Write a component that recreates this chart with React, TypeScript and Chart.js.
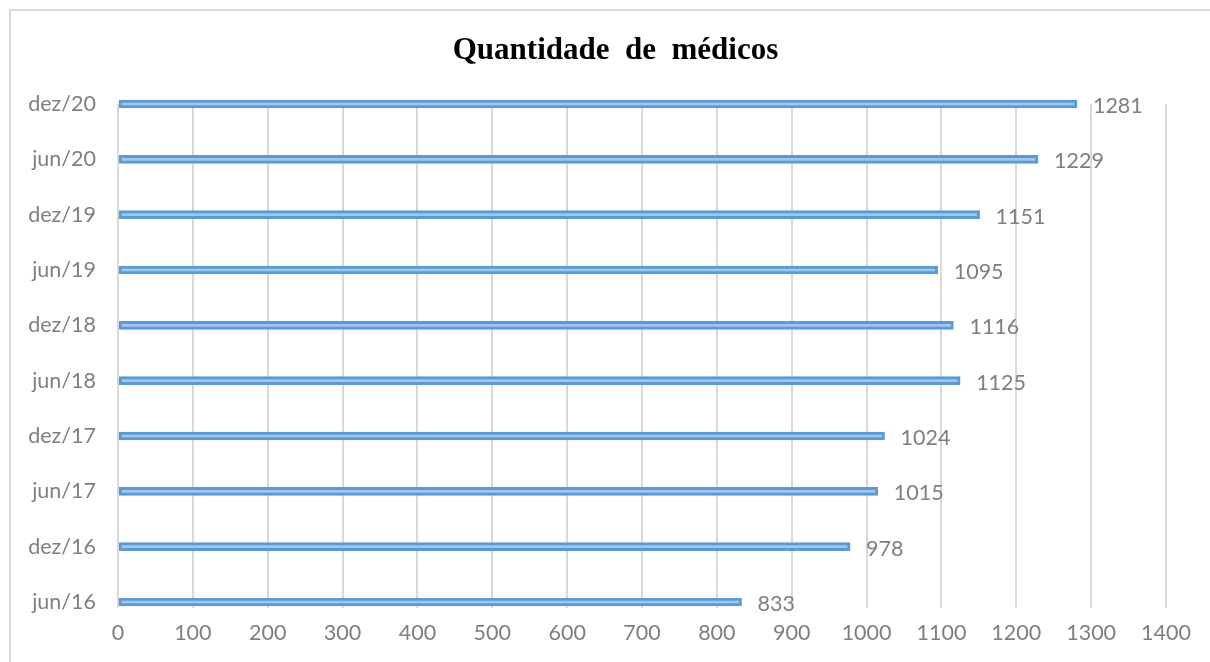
import React, { useEffect, useRef } from "react";
import { Chart, registerables } from "chart.js";

Chart.register(...registerables);

const periods = ["jun/16", "dez/16", "jun/17", "dez/17", "jun/18", "dez/18", "jun/19", "dez/19", "jun/20", "dez/20"];
const doctors = [833, 978, 1015, 1024, 1125, 1116, 1095, 1151, 1229, 1281];
const titleText = "Quantidade  de  médicos";
const xMin = 0;
const xMax = 1400;
const xStep = 100;

const labelColor = "#7f7f7f";
const gridColor = "#d9d9d9";
const labelFont = "Lato";
const labelSize = 21.5;

const valueLabels = {
  id: "valueLabels",
  afterDatasetsDraw(chart: any) {
    const ctx = chart.ctx;
    const meta = chart.getDatasetMeta(0);
    ctx.save();
    ctx.font = `${labelSize}px ${labelFont}`;
    ctx.fillStyle = labelColor;
    ctx.textAlign = "left";
    ctx.textBaseline = "middle";
    meta.data.forEach((bar: any, i: number) => {
      const v = chart.data.datasets[0].data[i];
      ctx.fillText(String(v), bar.x + 16, bar.y + 2);
    });
    ctx.restore();
  },
};

const titleDraw = {
  id: "titleDraw",
  afterDraw(chart: any) {
    const ctx = chart.ctx;
    ctx.save();
    ctx.font = "bold 31px 'Liberation Serif', 'Times New Roman', serif";
    ctx.fillStyle = "#000000";
    ctx.textAlign = "center";
    ctx.textBaseline = "middle";
    ctx.fillText(titleText, 615.5, 51);
    ctx.restore();
  },
};

export default function App() {
  const ref = useRef<HTMLCanvasElement | null>(null);
  useEffect(() => {
    if (!ref.current) return;
    const chart = new Chart(ref.current, {
      type: "bar",
      data: {
        labels: periods,
        datasets: [
          {
            data: doctors,
            backgroundColor: "#a3c6e8",
            borderColor: "#5b9bd5",
            borderWidth: 3,
            borderSkipped: false,
            barThickness: 8,
            clip: false,
          },
        ],
      },
      options: {
        indexAxis: "y",
        animation: false,
        responsive: false,
        layout: { padding: { left: 0, right: 44, top: 104, bottom: 0 } },
        plugins: {
          legend: { display: false },
          tooltip: { enabled: false },
          title: { display: false },
        },
        scales: {
          x: {
            min: xMin,
            max: xMax,
            ticks: {
              stepSize: xStep,
              color: labelColor,
              font: { family: labelFont, size: labelSize },
              padding: 12,
              callback: (v: any) => String(v),
            },
            grid: { color: gridColor, lineWidth: 2, drawTicks: true, tickLength: 6, tickColor: gridColor },
            border: { display: false },
            afterFit: (s: any) => {
              s.height = 60;
            },
          },
          y: {
            reverse: true,
            offset: false,
            ticks: {
              color: labelColor,
              font: { family: labelFont, size: labelSize },
              padding: 14,
            },
            grid: { display: false },
            border: { display: false },
            afterFit: (s: any) => {
              s.width = 118;
            },
          },
        },
      },
      plugins: [valueLabels, titleDraw],
    });
    return () => chart.destroy();
  }, []);

  return (
    <div style={{ position: "absolute", left: 0, top: 0, width: 1210, height: 662, background: "#ffffff", overflow: "hidden" }}>
      <div
        style={{
          position: "absolute",
          left: 9,
          top: 9,
          width: 1300,
          height: 800,
          borderTop: "2px solid #d9d9d9",
          borderLeft: "2px solid #d9d9d9",
        }}
      />
      <canvas ref={ref} width={1210} height={662} style={{ position: "absolute", left: 0, top: 0 }} />
    </div>
  );
}
